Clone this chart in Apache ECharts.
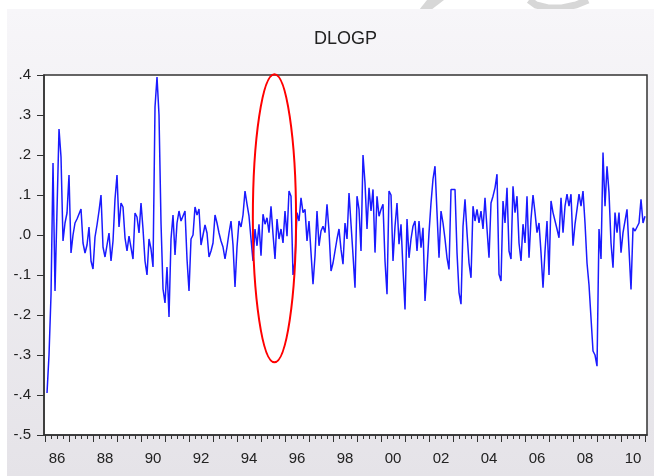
<!DOCTYPE html>
<html>
<head>
<meta charset="utf-8">
<script src="https://cdn.jsdelivr.net/npm/echarts@6/dist/echarts.min.js"></script>
<style>
html,body{margin:0;padding:0;background:#fff;}
#c{width:654px;height:476px;}
</style>
</head>
<body>
<div id="c"></div>
<script>
// ---- data ----
const seriesName = 'DLOGP';
const startYear = 1986;
const startMonth = 2; // first observation: 1986M02
const dlogp = [
  -0.395, -0.30, -0.15, 0.18, -0.14, -0.145, 0.265, 0.195, -0.015, 0.03,
  0.055, 0.15, -0.045, 0.0, 0.03, 0.04, 0.04, 0.065, -0.02, -0.045,
  -0.025, 0.02, -0.065, -0.085, -0.005, 0.025, 0.06, 0.10, -0.03, -0.055,
  -0.06, 0.005, -0.065, -0.015, 0.09, 0.15, 0.02, 0.08, 0.07, -0.007,
  -0.04, -0.003, -0.003, -0.06, 0.055, 0.045, 0.005, 0.08, 0.015, -0.065,
  -0.10, -0.01, -0.035, -0.08, 0.32, 0.395, 0.30, 0.03, -0.135, -0.17,
  -0.08, -0.205, -0.01, 0.05, -0.05, 0.03, 0.06, 0.035, 0.04, 0.06,
  -0.06, -0.14, -0.01, 0.0, 0.07, 0.05, 0.065, -0.025, -0.02, 0.025,
  0.005, -0.055, -0.04, -0.02, 0.05, 0.03, 0.005, -0.015, -0.03, -0.06,
  -0.03, 0.005, 0.035, -0.025, -0.13, -0.03, 0.035, 0.02, 0.05, 0.11,
  0.077, 0.047, -0.01, -0.065, 0.015, -0.027, 0.027, -0.052, 0.052, 0.027,
  0.043, 0.006, 0.072, 0.002, -0.06, 0.04, -0.01, 0.015, -0.02, 0.06,
  -0.003, 0.11, 0.097, -0.10, -0.065, 0.056, 0.035, 0.093, 0.056, 0.064,
  -0.015, 0.035, -0.044, -0.123, -0.052, 0.06, -0.027, 0.01, 0.022, 0.006,
  0.077, 0.01, -0.09, -0.07, -0.04, -0.01, 0.015, -0.036, -0.073, 0.03,
  -0.01, 0.105,
  0.11, -0.05, -0.132, 0.097, 0.064, -0.04, 0.2, 0.13, 0.015, 0.118,
  0.06, 0.114, -0.044, 0.097, 0.047, 0.064, 0.077, -0.065, -0.148, 0.11,
  0.10, -0.065, 0.022, 0.08, -0.023, 0.027, -0.086, -0.186, 0.04, -0.057,
  -0.01, 0.022, 0.035, -0.04, 0.035, -0.032, 0.018, -0.165, -0.086, 0.006,
  0.08, 0.14, 0.172, 0.056, -0.057, 0.06, 0.03, -0.01, -0.057, -0.086,
  0.114,
  0.114, 0.114, -0.044, -0.144, -0.173, 0.022, 0.089, 0.006, -0.07, -0.107,
  0.072, 0.035, 0.064, 0.03, 0.06, 0.015, 0.093, 0.015, -0.057, 0.08,
  0.097, 0.118, 0.152, -0.098, -0.115, 0.085, 0.03, 0.118, -0.04, -0.06,
  0.122, 0.056, 0.097, -0.02, -0.065, 0.027, -0.02, 0.097, -0.057, 0.04,
  0.10, 0.056, 0.006, 0.03, -0.044, -0.132, -0.04, 0.035, -0.10, 0.085,
  0.056,
  0.06, 0.015, -0.007, 0.093, 0.006, 0.072, 0.102, 0.072, 0.102, -0.027,
  0.027, 0.064, 0.102, 0.072, 0.11, 0.03, -0.07, -0.125, -0.13, -0.29,
  -0.30, -0.328, 0.015, -0.06, 0.206, 0.072, 0.172, 0.106, -0.02, -0.082,
  0.056, 0.006, 0.056, -0.044, 0.006, 0.01, 0.064, -0.036, -0.136, 0.018,
  0.01, 0.006, 0.03, 0.089, 0.03, 0.047
];
const xLabelYears = [1986, 1988, 1990, 1992, 1994, 1996, 1998, 2000, 2002, 2004, 2006, 2008, 2010];
const yearTickFirst = 1986, yearTickLast = 2011;
const xMin = 1985.958, xMax = 2011.083;
const yMin = -0.5, yMax = 0.4, yStep = 0.1;
// annotation (red ellipse), in data units
const ellipseCenter = [1995.56, 0.042];
const ellipseHalfW = 0.9;   // years
const ellipseHalfH = 0.36;  // value units

// ---- build ----
const points = dlogp.map((v, k) => [startYear + (startMonth - 1 + k) / 12, v]);
const yearTicks = [];
for (let y = yearTickFirst; y <= yearTickLast; y++) yearTicks.push(y);
const quarterTicks = [];
for (let y = yearTickFirst; y < yearTickLast; y++) for (let q = 1; q < 4; q++) quarterTicks.push(y + q / 4);

const FONT = 'Liberation Sans, Arial, sans-serif';
const AX = '#333333';
const chart = echarts.init(document.getElementById('c'), null, {renderer: 'canvas'});

const gridLeft = 44, gridRight = 7, gridTop = 75, gridBottom = 41;

chart.setOption({
  animation: false,
  backgroundColor: '#ffffff',
  grid: {
    left: gridLeft, right: gridRight, top: gridTop, bottom: gridBottom,
    show: true, backgroundColor: '#ffffff', borderColor: AX, borderWidth: 1.5
  },
  xAxis: [
    {
      type: 'value', min: xMin, max: xMax, position: 'bottom',
      axisLine: {show: true, onZero: false, lineStyle: {color: AX, width: 1.5}},
      axisTick: {show: true, customValues: yearTicks, length: 7, lineStyle: {color: AX, width: 1}},
      axisLabel: {
        customValues: xLabelYears.map(y => y + 0.5),
        formatter: v => String(Math.floor(v + 1e-6) % 100).padStart(2, '0'),
        margin: 16, color: '#222', fontSize: 15, fontFamily: FONT
      },
      splitLine: {show: false}
    },
    {
      type: 'value', min: xMin, max: xMax, position: 'bottom',
      axisLine: {show: false, onZero: false},
      axisTick: {show: true, customValues: quarterTicks, length: 4, lineStyle: {color: AX, width: 1}},
      axisLabel: {show: false},
      splitLine: {show: false}
    }
  ],
  yAxis: {
    type: 'value', min: yMin, max: yMax, interval: yStep,
    axisLine: {show: true, onZero: false, lineStyle: {color: AX, width: 1.5}},
    axisTick: {show: true, length: 7, lineStyle: {color: AX, width: 1}},
    axisLabel: {
      formatter: v => {
        let s = v.toFixed(1);
        if (s === '-0.0') s = '0.0';
        return s.replace('0.', '.');
      },
      margin: 13, color: '#222', fontSize: 15, fontFamily: FONT
    },
    splitLine: {show: false}
  },
  series: [{
    name: seriesName, type: 'line', xAxisIndex: 0, yAxisIndex: 0,
    data: points, showSymbol: false, symbol: 'none',
    lineStyle: {color: '#1a1aff', width: 1.5},
    z: 3
  }],
  graphic: [
    {id: 'wm1', type: 'polygon', z: -20, silent: true,
     shape: {points: [[427, 0], [444, 0], [431, 10], [419, 10]]}, style: {fill: '#d7d7d7'}},
    {id: 'wm2', type: 'polyline', z: -20, silent: true,
     shape: {points: [[529, 0], [536, 5], [548, 8], [562, 8], [576, 5], [588, 0]]},
     style: {stroke: '#d7d7d7', lineWidth: 7, fill: 'none'}},
    {id: 'panel', type: 'rect', z: -10, silent: true,
     shape: {x: 7, y: 9, width: 654 - 7, height: 476 - 9},
     style: {fill: {type: 'linear', x: 0, y: 0, x2: 0, y2: 1,
       colorStops: [{offset: 0, color: '#f7f6f9'}, {offset: 1, color: '#e5e3e8'}]}}},
    {id: 'title', type: 'text', z: 10, silent: true,
     x: gridLeft + (654 - gridLeft - gridRight) / 2, y: 39,
     style: {text: seriesName, fill: '#222', font: '18px ' + FONT, textAlign: 'center', textVerticalAlign: 'middle'}}
  ]
});

const c = chart.convertToPixel({xAxisIndex: 0, yAxisIndex: 0}, ellipseCenter);
const e = chart.convertToPixel({xAxisIndex: 0, yAxisIndex: 0},
  [ellipseCenter[0] + ellipseHalfW, ellipseCenter[1] + ellipseHalfH]);
chart.setOption({
  graphic: [{
    id: 'ring', type: 'ellipse', z: 100, silent: true,
    shape: {cx: c[0], cy: c[1], rx: Math.abs(e[0] - c[0]), ry: Math.abs(c[1] - e[1])},
    style: {fill: 'none', stroke: '#ff0000', lineWidth: 2}
  }]
});
</script>
</body>
</html>
